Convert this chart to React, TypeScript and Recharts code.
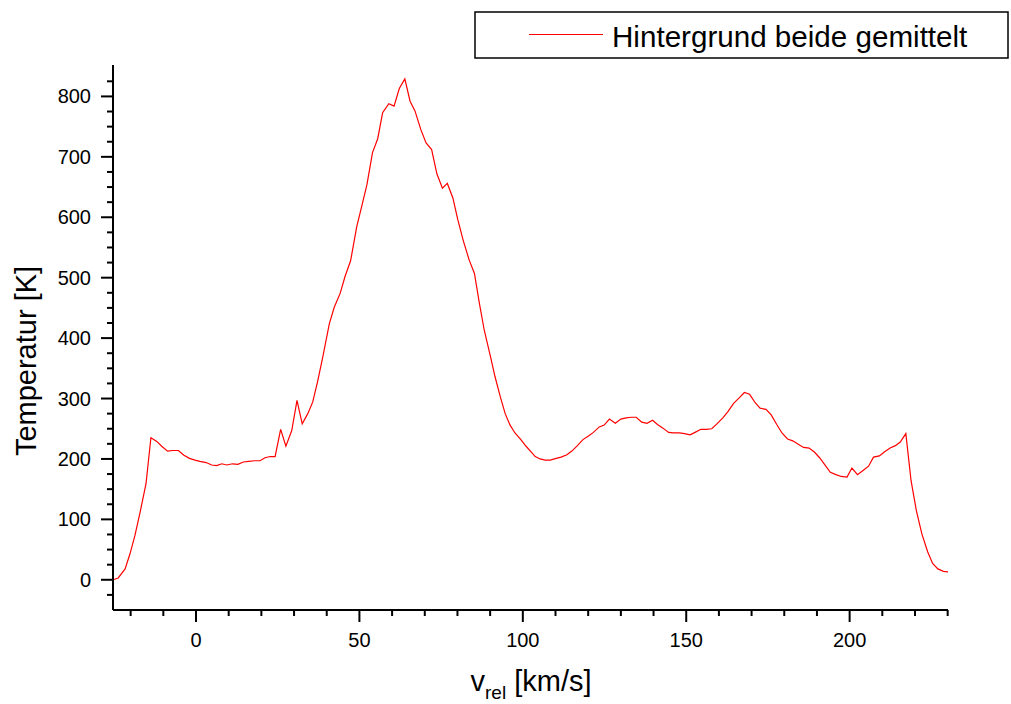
import { LineChart, Line, XAxis, YAxis, Label } from "recharts";

// velocity channels [km/s]
const velocity = [
  -25.4, -23.8, -21.7, -20.2, -18.7, -17.1, -15.3, -13.8, -12.0, -10.5, -8.7, -7.1, -5.4, -3.7, -2.0, -0.3,
  1.2, 3.1, 4.8, 6.3, 7.9, 9.4, 11.2, 12.8, 14.5, 16.1, 17.9, 19.6, 21.1, 22.7, 24.2, 25.9, 27.5, 29.3,
  30.9, 32.5, 34.2, 35.7, 37.2, 38.8, 40.8, 42.3, 44.1, 45.6, 47.3, 49.2, 50.7, 52.3, 54.0, 55.6, 57.1,
  59.0, 60.6, 62.2, 63.9, 65.5, 67.0, 68.8, 70.4, 72.1, 73.7, 75.4, 76.9, 78.6, 80.1, 81.8, 83.6, 85.2,
  86.7, 88.2, 90.0, 91.5, 93.1, 94.6, 96.1, 97.6, 99.4, 101.0, 102.8, 103.8, 105.3, 106.8, 108.4, 110.2,
  111.7, 113.5, 115.0, 116.7, 118.4, 120.1, 121.6, 123.4, 124.9, 126.5, 128.3, 130.0, 131.6, 133.2, 134.7,
  136.4, 138.0, 139.7, 141.2, 142.9, 144.6, 146.1, 147.9, 149.5, 151.2, 152.7, 154.5, 156.1, 157.8, 159.4,
  161.2, 162.7, 164.5, 166.2, 167.8, 169.4, 171.1, 172.6, 174.4, 176.0, 177.7, 179.3, 181.0, 182.6, 184.4,
  185.9, 187.6, 189.3, 190.8, 192.6, 194.1, 195.8, 197.4, 199.2, 200.7, 202.4, 204.1, 205.8, 207.3, 209.1,
  210.7, 212.4, 214.0, 215.5, 217.2, 218.8, 220.4, 222.1, 223.9, 225.4, 227.0, 228.7, 230.1,
];

// "Hintergrund beide gemittelt" temperature [K]
const temperature = [
  0, 3, 18, 43, 73, 112, 159, 235, 229, 221, 213, 214, 214, 206, 201, 198,
  196, 194, 190, 189, 192, 190, 192, 191, 195, 196, 197, 197, 202, 204, 204, 249, 221, 247,
  297, 258, 275, 294, 328, 369, 424, 451, 474, 502, 528, 585, 618, 654, 707, 730, 773,
  788, 784, 813, 829, 792, 776, 745, 723, 712, 672, 648, 656, 632, 596, 561, 529, 507,
  458, 413, 372, 336, 303, 275, 256, 243, 232, 221, 210, 204, 200, 198, 198, 201,
  203, 207, 213, 222, 232, 238, 244, 253, 256, 266, 259, 266, 268, 269, 269,
  261, 259, 264, 257, 251, 244, 243, 243, 242, 240, 244, 249, 249, 250, 258,
  268, 278, 292, 301, 310, 307, 293, 284, 282, 273, 257, 243, 233, 230, 224,
  219, 218, 211, 202, 189, 178, 174, 171, 170, 185, 174, 181, 188, 203, 205,
  212, 218, 222, 228, 242, 164, 115, 76, 46, 27, 18, 14, 13,
];

const xTicks = [-20, -10, 0, 10, 20, 30, 40, 50, 60, 70, 80, 90, 100, 110, 120, 130, 140, 150, 160, 170, 180, 190, 200, 210, 220, 230];
const xLabeled = [0, 50, 100, 150, 200];
const yTicks = [-25, 0, 25, 50, 75, 100, 125, 150, 175, 200, 225, 250, 275, 300, 325, 350, 375, 400, 425, 450, 475, 500, 525, 550, 575, 600, 625, 650, 675, 700, 725, 750, 775, 800, 825];
const yLabeled = [0, 100, 200, 300, 400, 500, 600, 700, 800];

const seriesName = "Hintergrund beide gemittelt";
const FONT = "'Liberation Sans', Arial, sans-serif";

const data = velocity.map((v, i) => ({ v, t: temperature[i] }));

function XTick(props: any) {
  const { x, y, payload } = props;
  const major = xLabeled.includes(payload.value);
  return (
    <g>
      <line x1={x} y1={y} x2={x} y2={y + (major ? 12 : 6)} stroke="#000" strokeWidth={2} />
      {major && (
        <text x={x} y={y + 37} textAnchor="middle" fontSize={20} fill="#000" fontFamily={FONT}>
          {payload.value}
        </text>
      )}
    </g>
  );
}

function YTick(props: any) {
  const { x, y, payload } = props;
  const major = yLabeled.includes(payload.value);
  return (
    <g>
      <line x1={x - (major ? 12 : 6)} y1={y} x2={x} y2={y} stroke="#000" strokeWidth={2} />
      {major && (
        <text x={x - 22} y={y + 7} textAnchor="end" fontSize={20} fill="#000" fontFamily={FONT}>
          {payload.value}
        </text>
      )}
    </g>
  );
}

export default function App() {
  return (
    <div style={{ position: "absolute", left: 0, top: 0, width: 1011, height: 704, background: "#fff" }}>
      <LineChart
        width={1011}
        height={704}
        data={data}
        margin={{ top: 65, right: 63, bottom: 0, left: 0 }}
        style={{ fontFamily: FONT }}
      >
        <XAxis
          dataKey="v"
          type="number"
          domain={[-25.4, 230.1]}
          ticks={xTicks}
          interval={0}
          tick={<XTick />}
          tickLine={false}
          tickSize={0}
          tickMargin={0}
          height={94}
          axisLine={{ stroke: "#000", strokeWidth: 2 }}
          allowDataOverflow
        >
          <Label
            content={() => (
              <text x={531} y={691} textAnchor="middle" fontSize={29} fill="#000" fontFamily={FONT} style={{ whiteSpace: "pre" }}>
                v
                <tspan fontSize={19} dy={8}>rel</tspan>
                <tspan dy={-8}> [km/s]</tspan>
              </text>
            )}
          />
        </XAxis>
        <YAxis
          type="number"
          domain={[-50, 852]}
          ticks={yTicks}
          interval={0}
          tick={<YTick />}
          tickLine={false}
          tickSize={0}
          tickMargin={0}
          width={113}
          axisLine={{ stroke: "#000", strokeWidth: 2 }}
          allowDataOverflow
        >
          <Label
            content={() => (
              <text
                x={36}
                y={361}
                transform="rotate(-90 36 361)"
                textAnchor="middle"
                fontSize={29}
                fill="#000"
                fontFamily={FONT}
              >
                Temperatur [K]
              </text>
            )}
          />
        </YAxis>
        <Line
          type="linear"
          dataKey="t"
          name={seriesName}
          stroke="#ff0000"
          strokeWidth={1.2}
          dot={false}
          activeDot={false}
          isAnimationActive={false}
        />
      </LineChart>
      <svg
        width={536}
        height={48}
        style={{ position: "absolute", left: 474, top: 11 }}
      >
        <rect x={1} y={1} width={533} height={46} fill="#fff" stroke="#000" strokeWidth={1.5} />
        <line x1={55} y1={23.5} x2={129} y2={23.5} stroke="#ff0000" strokeWidth={1.2} />
        <text x={138} y={35.5} fontSize={29.6} fill="#000" fontFamily={FONT}>
          {seriesName}
        </text>
      </svg>
    </div>
  );
}
